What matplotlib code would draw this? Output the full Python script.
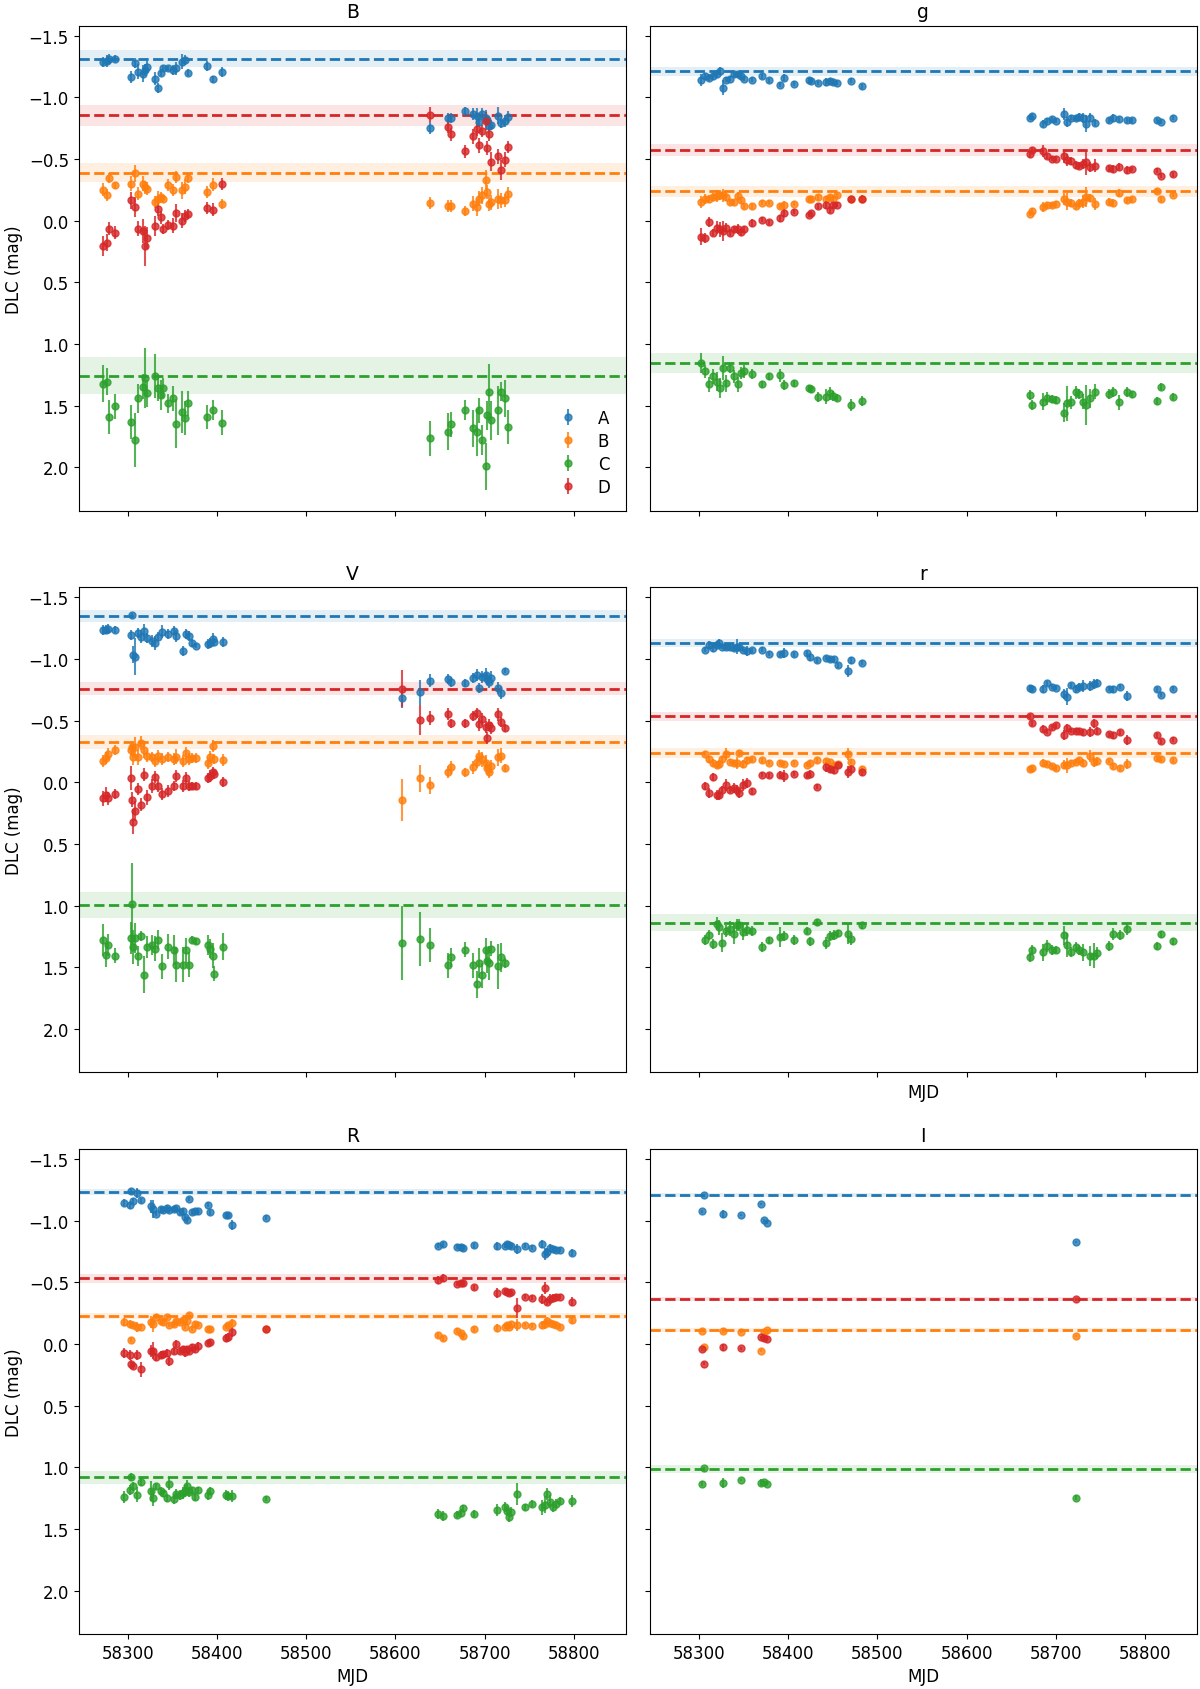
"""
DLC light curves of the four lensed images (A-D) in six filters,
with the reference level of each image shown as a dashed line and band.
"""
import matplotlib.pyplot as plt

plt.rcParams.update({
    "font.size": 12,
    "axes.titlesize": 13.5,
    "axes.labelsize": 12,
})

IMAGES = ["A", "B", "C", "D"]
COLORS = ["tab:blue", "tab:orange", "tab:green", "tab:red"]

# --- B filter ---------------------------------------------------------------
B_MJD = [58272.5, 58277, 58279, 58286, 58304, 58308, 58311.5, 58317, 58319, 58321, 58331, 58334, 58337, 58339, 58345, 58351, 58354, 58361, 58364, 58368, 58389, 58396, 58406,
         58639, 58659, 58662, 58678, 58687, 58691, 58694, 58697, 58701, 58703, 58705, 58707, 58715, 58718, 58723, 58726]
B_A = [-1.285, -1.296, -1.31, -1.315, -1.167, -1.276, -1.208, -1.194, -1.22, -1.249, -1.153, -1.076, -1.20, -1.235, -1.235, -1.22, -1.235, -1.290, -1.304, -1.200, -1.254, -1.147, -1.208,
       -0.755, -0.832, -0.832, -0.892, -0.865, -0.851, -0.80, -0.865, -0.837, -0.82, -0.769, -0.78, -0.851, -0.796, -0.81, -0.843]
B_B = [-0.253, -0.211, -0.349, -0.288, -0.302, -0.384, -0.220, -0.302, -0.27, -0.261, -0.151, -0.178, -0.19, -0.178, -0.288, -0.247, -0.357, -0.247, -0.275, -0.343, -0.233, -0.294, -0.137,
       -0.143, -0.118, -0.118, -0.082, -0.137, -0.110, -0.178, -0.206, -0.329, -0.233, -0.137, -0.15, -0.178, -0.165, -0.165, -0.220]
B_C = [1.323, 1.304, 1.592, 1.504, 1.633, 1.776, 1.441, 1.345, 1.276, 1.400, 1.257, 1.359, 1.414, 1.359, 1.482, 1.441, 1.647, 1.551, 1.598, 1.482, 1.592, 1.537, 1.639,
       1.765, 1.710, 1.650, 1.537, 1.683, 1.716, 1.537, 1.776, 1.990, 1.578, 1.392, 1.62, 1.537, 1.386, 1.441, 1.674]
B_D = [0.206, 0.178, 0.063, 0.096, -0.165, -0.110, 0.063, 0.082, 0.206, 0.137, 0.041, -0.096, -0.027, 0.069, 0.036, 0.041, -0.063, 0.0, -0.041, -0.055, -0.104, -0.091, -0.296,
       -0.859, -0.760, -0.700, -0.563, -0.686, -0.741, -0.612, -0.727, -0.810, -0.590, -0.705, -0.480, -0.522, -0.412, -0.494, -0.598]
B_A_ERR = [0.04, 0.05, 0.04, 0.03, 0.05, 0.04, 0.06, 0.07, 0.05, 0.05, 0.05, 0.04, 0.03, 0.02, 0.02, 0.04, 0.05, 0.06, 0.04, 0.03, 0.04, 0.03, 0.04,
           0.05, 0.04, 0.04, 0.03, 0.05, 0.06, 0.04, 0.05, 0.06, 0.04, 0.04, 0.04, 0.07, 0.04, 0.05, 0.05]
B_B_ERR = [0.05, 0.05, 0.04, 0.03, 0.06, 0.07, 0.05, 0.06, 0.05, 0.05, 0.05, 0.06, 0.04, 0.03, 0.05, 0.05, 0.05, 0.07, 0.06, 0.04, 0.05, 0.05, 0.04,
           0.05, 0.05, 0.05, 0.04, 0.06, 0.07, 0.06, 0.07, 0.08, 0.06, 0.06, 0.06, 0.08, 0.06, 0.05, 0.05]
B_C_ERR = [0.15, 0.11, 0.14, 0.10, 0.14, 0.22, 0.12, 0.10, 0.24, 0.11, 0.18, 0.10, 0.12, 0.08, 0.08, 0.10, 0.20, 0.17, 0.14, 0.10, 0.10, 0.08, 0.10,
           0.14, 0.15, 0.10, 0.08, 0.15, 0.19, 0.10, 0.12, 0.19, 0.12, 0.23, 0.16, 0.20, 0.08, 0.15, 0.14]
B_D_ERR = [0.08, 0.07, 0.05, 0.05, 0.07, 0.08, 0.06, 0.10, 0.16, 0.09, 0.08, 0.06, 0.05, 0.04, 0.04, 0.06, 0.07, 0.06, 0.05, 0.04, 0.05, 0.05, 0.05,
           0.06, 0.05, 0.05, 0.05, 0.06, 0.05, 0.06, 0.05, 0.07, 0.06, 0.06, 0.08, 0.06, 0.08, 0.06, 0.05]
B_REF = [-1.315, -0.390, 1.257, -0.854]
B_REF_ERR = [0.066, 0.075, 0.148, 0.088]

# --- g filter ---------------------------------------------------------------
G_MJD = [58302.6, 58306.9, 58311.2, 58315.5, 58319.8, 58323.2, 58327.1, 58330.5, 58334.8, 58339.1, 58343.4, 58347.7, 58351.1, 58359.7, 58371.3, 58378.6, 58390.6, 58394.9, 58407.0, 58422.9, 58425.9, 58433.6, 58443.0, 58446.5, 58450.8, 58455.1, 58470.5, 58483.0,
         58670.7, 58673.3, 58686.2, 58690.5, 58695.6, 58700.8, 58709.4, 58712.8, 58717.1, 58722.3, 58726.5, 58730.8, 58734.3, 58738.6, 58743.7, 58759.2, 58764.4, 58770.8, 58779.4, 58785.8, 58813.8, 58818.1, 58830.9]
G_A = [-1.139, -1.172, -1.161, -1.172, -1.189, -1.215, -1.079, -1.145, -1.150, -1.189, -1.189, -1.172, -1.153, -1.145, -1.172, -1.139, -1.105, -1.161, -1.111, -1.139, -1.134, -1.117, -1.125, -1.134, -1.125, -1.117, -1.134, -1.090,
       -0.837, -0.851, -0.788, -0.810, -0.824, -0.810, -0.865, -0.804, -0.837, -0.832, -0.843, -0.832, -0.788, -0.837, -0.796, -0.815, -0.837, -0.824, -0.815, -0.815, -0.815, -0.804, -0.837]
G_B = [-0.151, -0.178, -0.178, -0.192, -0.200, -0.211, -0.206, -0.192, -0.151, -0.151, -0.200, -0.165, -0.118, -0.118, -0.145, -0.145, -0.118, -0.129, -0.137, -0.173, -0.178, -0.192, -0.173, -0.192, -0.178, -0.206, -0.178, -0.178,
       -0.055, -0.082, -0.110, -0.124, -0.124, -0.137, -0.178, -0.156, -0.145, -0.118, -0.145, -0.156, -0.192, -0.184, -0.137, -0.156, -0.145, -0.228, -0.165, -0.173, -0.239, -0.173, -0.211]
G_C = [1.153, 1.222, 1.326, 1.263, 1.304, 1.359, 1.194, 1.318, 1.194, 1.263, 1.326, 1.235, 1.222, 1.243, 1.326, 1.263, 1.254, 1.331, 1.318, 1.359, 1.364, 1.427, 1.427, 1.400, 1.419, 1.436, 1.496, 1.463,
       1.414, 1.496, 1.469, 1.441, 1.447, 1.455, 1.556, 1.482, 1.474, 1.392, 1.408, 1.469, 1.496, 1.441, 1.386, 1.408, 1.386, 1.474, 1.386, 1.408, 1.463, 1.345, 1.427]
G_D = [0.129, 0.137, 0.008, 0.096, 0.055, 0.069, 0.082, 0.055, 0.096, 0.069, 0.069, 0.091, 0.069, 0.019, -0.008, 0.014, -0.019, -0.063, -0.074, -0.049, -0.063, -0.118, -0.129, -0.091, -0.124, -0.129, -0.173, -0.178,
       -0.541, -0.576, -0.568, -0.522, -0.502, -0.502, -0.522, -0.494, -0.486, -0.453, -0.447, -0.458, -0.475, -0.439, -0.447, -0.425, -0.420, -0.439, -0.412, -0.420, -0.404, -0.365, -0.376]
G_A_ERR = [0.05, 0.03, 0.03, 0.03, 0.03, 0.03, 0.06, 0.02, 0.02, 0.02, 0.02, 0.02, 0.02, 0.02, 0.02, 0.02, 0.02, 0.03, 0.02, 0.02, 0.02, 0.02, 0.03, 0.02, 0.02, 0.02, 0.02, 0.02,
           0.02, 0.02, 0.03, 0.02, 0.02, 0.02, 0.05, 0.04, 0.02, 0.02, 0.03, 0.04, 0.07, 0.04, 0.03, 0.02, 0.03, 0.02, 0.02, 0.02, 0.02, 0.02, 0.02]
G_B_ERR = [0.05, 0.04, 0.03, 0.03, 0.05, 0.04, 0.05, 0.03, 0.02, 0.02, 0.03, 0.03, 0.02, 0.02, 0.02, 0.02, 0.02, 0.03, 0.02, 0.02, 0.02, 0.02, 0.03, 0.02, 0.02, 0.02, 0.02, 0.02,
           0.02, 0.02, 0.04, 0.02, 0.02, 0.02, 0.05, 0.07, 0.03, 0.02, 0.03, 0.05, 0.08, 0.03, 0.05, 0.03, 0.03, 0.03, 0.02, 0.02, 0.02, 0.02, 0.02]
G_C_ERR = [0.08, 0.05, 0.06, 0.06, 0.08, 0.08, 0.10, 0.07, 0.04, 0.05, 0.06, 0.05, 0.05, 0.04, 0.03, 0.03, 0.05, 0.04, 0.03, 0.03, 0.03, 0.04, 0.06, 0.05, 0.04, 0.03, 0.05, 0.04,
           0.04, 0.04, 0.07, 0.05, 0.03, 0.03, 0.08, 0.14, 0.05, 0.05, 0.04, 0.06, 0.16, 0.08, 0.06, 0.04, 0.04, 0.06, 0.04, 0.03, 0.03, 0.03, 0.03]
G_D_ERR = [0.07, 0.04, 0.04, 0.03, 0.05, 0.06, 0.08, 0.04, 0.03, 0.03, 0.04, 0.03, 0.03, 0.03, 0.02, 0.02, 0.03, 0.03, 0.02, 0.02, 0.02, 0.02, 0.03, 0.03, 0.02, 0.02, 0.03, 0.03,
           0.03, 0.02, 0.05, 0.02, 0.02, 0.02, 0.05, 0.05, 0.03, 0.03, 0.03, 0.04, 0.10, 0.04, 0.05, 0.03, 0.03, 0.03, 0.03, 0.02, 0.02, 0.02, 0.02]
G_REF = [-1.211, -0.239, 1.153, -0.571]
G_REF_ERR = [0.038, 0.045, 0.082, 0.048]

# --- V filter ---------------------------------------------------------------
V_MJD = [58272.0, 58275.5, 58278.0, 58285.8, 58303.2, 58304.5, 58305.5, 58307.8, 58311.5, 58314.7, 58317.9, 58321.5, 58327.0, 58330.7, 58334.4, 58338.0, 58345.4, 58351.3, 58353.6, 58361.4, 58365.1, 58368.3, 58372.0, 58376.5, 58389.4, 58392.6, 58395.8, 58396.7, 58406.3,
         58607.1, 58627.2, 58638.7, 58658.8, 58662.5, 58678.1, 58687.3, 58690.9, 58693.7, 58697.3, 58701.0, 58702.8, 58704.7, 58706.5, 58714.8, 58718.0, 58722.6]
V_A = [-1.238, -1.24, -1.241, -1.238, -1.194, -1.354, -1.035, -1.020, -1.212, -1.183, -1.232, -1.174, -1.145, -1.130, -1.183, -1.223, -1.203, -1.232, -1.188, -1.067, -1.203, -1.188, -1.130, -1.107, -1.125, -1.130, -1.165, -1.14, -1.139,
       -0.681, -0.730, -0.826, -0.841, -0.817, -0.806, -0.846, -0.870, -0.768, -0.855, -0.875, -0.841, -0.817, -0.85, -0.768, -0.725, -0.904]
V_B = [-0.174, -0.20, -0.232, -0.261, -0.261, -0.29, -0.209, -0.290, -0.203, -0.319, -0.261, -0.217, -0.203, -0.174, -0.217, -0.188, -0.203, -0.188, -0.209, -0.174, -0.238, -0.188, -0.197, -0.197, -0.159, -0.203, -0.296, -0.19, -0.180,
       0.139, -0.035, 0.023, -0.087, -0.122, -0.081, -0.122, -0.168, -0.217, -0.188, -0.159, -0.116, -0.087, -0.13, -0.203, -0.217, -0.116]
V_C = [1.275, 1.40, 1.319, 1.406, 1.261, 0.986, 1.333, 1.261, 1.406, 1.246, 1.559, 1.333, 1.319, 1.348, 1.275, 1.493, 1.333, 1.357, 1.478, 1.478, 1.362, 1.478, 1.275, 1.290, 1.319, 1.348, 1.406, 1.551, 1.333,
       1.304, 1.270, 1.319, 1.484, 1.420, 1.357, 1.484, 1.638, 1.464, 1.565, 1.362, 1.449, 1.464, 1.348, 1.493, 1.420, 1.464]
V_D = [0.130, 0.10, 0.130, 0.093, -0.035, 0.139, 0.319, 0.232, 0.052, 0.180, -0.064, 0.122, 0.029, -0.043, 0.029, 0.093, 0.072, 0.029, -0.052, 0.029, -0.035, 0.029, 0.029, 0.029, -0.035, -0.052, -0.087, -0.07, -0.006,
       -0.759, -0.507, -0.522, -0.557, -0.478, -0.478, -0.536, -0.565, -0.470, -0.516, -0.449, -0.362, -0.464, -0.441, -0.551, -0.487, -0.441]
V_A_ERR = [0.04, 0.04, 0.04, 0.03, 0.04, 0.02, 0.07, 0.15, 0.04, 0.05, 0.05, 0.04, 0.05, 0.06, 0.04, 0.05, 0.04, 0.04, 0.05, 0.04, 0.04, 0.04, 0.03, 0.02, 0.04, 0.04, 0.05, 0.03, 0.04,
           0.08, 0.10, 0.05, 0.04, 0.04, 0.03, 0.04, 0.05, 0.04, 0.05, 0.05, 0.05, 0.05, 0.05, 0.05, 0.05, 0.02]
V_B_ERR = [0.05, 0.05, 0.05, 0.04, 0.05, 0.04, 0.07, 0.08, 0.06, 0.06, 0.06, 0.05, 0.04, 0.05, 0.05, 0.05, 0.04, 0.05, 0.06, 0.05, 0.05, 0.05, 0.04, 0.04, 0.05, 0.05, 0.05, 0.04, 0.05,
           0.17, 0.11, 0.07, 0.05, 0.05, 0.04, 0.05, 0.05, 0.05, 0.06, 0.06, 0.05, 0.05, 0.05, 0.07, 0.06, 0.03]
V_C_ERR = [0.13, 0.10, 0.09, 0.06, 0.13, 0.33, 0.14, 0.12, 0.08, 0.04, 0.15, 0.09, 0.08, 0.10, 0.08, 0.10, 0.10, 0.12, 0.14, 0.14, 0.10, 0.10, 0.03, 0.03, 0.08, 0.08, 0.10, 0.06, 0.11,
           0.30, 0.22, 0.14, 0.10, 0.08, 0.06, 0.10, 0.11, 0.12, 0.10, 0.10, 0.10, 0.14, 0.06, 0.18, 0.12, 0.04]
V_D_ERR = [0.06, 0.06, 0.05, 0.04, 0.10, 0.06, 0.10, 0.08, 0.05, 0.05, 0.05, 0.06, 0.06, 0.05, 0.05, 0.05, 0.05, 0.04, 0.05, 0.05, 0.05, 0.04, 0.03, 0.03, 0.04, 0.05, 0.04, 0.04, 0.04,
           0.15, 0.12, 0.06, 0.05, 0.04, 0.04, 0.04, 0.04, 0.05, 0.05, 0.05, 0.05, 0.05, 0.05, 0.05, 0.04, 0.03]
V_REF = [-1.351, -0.328, 0.991, -0.759]
V_REF_ERR = [0.050, 0.058, 0.106, 0.054]

# --- r filter ---------------------------------------------------------------
r_MJD = [58306.9, 58311.2, 58315.5, 58319.8, 58322.8, 58326.2, 58330.5, 58334.8, 58339.1, 58342.5, 58345.5, 58349.8, 58354.1, 58359.7, 58371.3, 58378.6, 58390.6, 58394.9, 58407.0, 58420.7, 58424.1, 58432.7, 58443.0, 58446.5, 58451.6, 58455.9, 58467.1, 58470.5, 58483.0,
         58670.7, 58673.3, 58686.2, 58690.5, 58695.6, 58700.8, 58709.4, 58712.8, 58717.1, 58722.3, 58726.5, 58730.8, 58738.6, 58742.9, 58746.3, 58759.2, 58764.4, 58772.1, 58779.4, 58813.8, 58818.1, 58830.9]
r_A = [-1.078, -1.116, -1.087, -1.116, -1.130, -1.101, -1.096, -1.096, -1.087, -1.101, -1.096, -1.078, -1.067, -1.072, -1.078, -1.043, -1.038, -1.049, -1.038, -1.049, -1.014, -0.991, -1.009, -1.0, -1.0, -0.951, -0.904, -0.991, -0.971,
       -0.768, -0.759, -0.759, -0.806, -0.777, -0.768, -0.719, -0.696, -0.788, -0.759, -0.777, -0.783, -0.783, -0.797, -0.806, -0.759, -0.754, -0.777, -0.701, -0.754, -0.710, -0.759]
r_B = [-0.232, -0.188, -0.159, -0.145, -0.151, -0.188, -0.232, -0.168, -0.159, -0.159, -0.238, -0.151, -0.180, -0.188, -0.180, -0.159, -0.159, -0.151, -0.159, -0.145, -0.159, -0.180, -0.174, -0.168, -0.145, -0.151, -0.232, -0.168, -0.110,
       -0.110, -0.116, -0.159, -0.151, -0.130, -0.116, -0.145, -0.139, -0.159, -0.168, -0.180, -0.159, -0.217, -0.168, -0.174, -0.174, -0.130, -0.116, -0.151, -0.197, -0.188, -0.180]
r_C = [1.281, 1.241, 1.310, 1.145, 1.174, 1.299, 1.203, 1.188, 1.232, 1.159, 1.154, 1.212, 1.194, 1.203, 1.333, 1.281, 1.252, 1.246, 1.275, 1.203, 1.290, 1.136, 1.304, 1.246, 1.241, 1.223, 1.232, 1.270, 1.159,
       1.420, 1.357, 1.377, 1.328, 1.357, 1.357, 1.241, 1.319, 1.377, 1.333, 1.362, 1.377, 1.406, 1.406, 1.385, 1.328, 1.232, 1.241, 1.188, 1.328, 1.232, 1.290]
r_D = [0.029, 0.087, -0.043, 0.101, 0.101, 0.06, 0.023, 0.058, 0.043, 0.058, 0.087, 0.023, 0.006, 0.072, -0.064, -0.058, -0.064, -0.052, -0.072, -0.058, -0.072, 0.035, -0.122, -0.110, -0.101, -0.139, -0.087, -0.110, -0.081,
       -0.536, -0.478, -0.435, -0.412, -0.449, -0.464, -0.383, -0.441, -0.420, -0.420, -0.420, -0.406, -0.412, -0.478, -0.420, -0.391, -0.383, -0.406, -0.342, -0.383, -0.333, -0.348]
r_A_ERR = [0.02, 0.03, 0.03, 0.03, 0.03, 0.02, 0.02, 0.02, 0.02, 0.06, 0.02, 0.02, 0.04, 0.02, 0.02, 0.02, 0.02, 0.04, 0.02, 0.02, 0.03, 0.02, 0.02, 0.02, 0.02, 0.02, 0.05, 0.03, 0.02,
           0.02, 0.02, 0.03, 0.02, 0.02, 0.02, 0.04, 0.07, 0.02, 0.03, 0.03, 0.05, 0.04, 0.04, 0.03, 0.02, 0.03, 0.02, 0.04, 0.02, 0.02, 0.02]
r_B_ERR = [0.02, 0.03, 0.03, 0.03, 0.03, 0.02, 0.05, 0.02, 0.02, 0.05, 0.02, 0.03, 0.03, 0.02, 0.02, 0.02, 0.02, 0.02, 0.02, 0.02, 0.02, 0.02, 0.02, 0.02, 0.02, 0.02, 0.05, 0.02, 0.02,
           0.02, 0.02, 0.03, 0.02, 0.02, 0.02, 0.04, 0.06, 0.02, 0.02, 0.02, 0.03, 0.05, 0.04, 0.03, 0.02, 0.02, 0.02, 0.04, 0.02, 0.02, 0.02]
r_C_ERR = [0.04, 0.04, 0.04, 0.05, 0.06, 0.08, 0.05, 0.06, 0.08, 0.05, 0.05, 0.07, 0.05, 0.04, 0.04, 0.03, 0.08, 0.04, 0.04, 0.03, 0.04, 0.03, 0.05, 0.04, 0.04, 0.03, 0.08, 0.05, 0.03,
           0.04, 0.04, 0.07, 0.05, 0.04, 0.03, 0.08, 0.10, 0.04, 0.04, 0.04, 0.07, 0.08, 0.10, 0.05, 0.04, 0.05, 0.04, 0.05, 0.03, 0.03, 0.03]
r_D_ERR = [0.03, 0.04, 0.03, 0.04, 0.04, 0.03, 0.05, 0.03, 0.04, 0.04, 0.04, 0.05, 0.04, 0.03, 0.02, 0.02, 0.03, 0.05, 0.02, 0.02, 0.03, 0.02, 0.04, 0.03, 0.03, 0.02, 0.05, 0.03, 0.03,
           0.02, 0.02, 0.03, 0.02, 0.02, 0.02, 0.04, 0.03, 0.02, 0.02, 0.02, 0.03, 0.04, 0.04, 0.03, 0.02, 0.03, 0.02, 0.04, 0.02, 0.02, 0.02]
r_REF = [-1.130, -0.238, 1.139, -0.536]
r_REF_ERR = [0.035, 0.039, 0.068, 0.038]

# --- R filter ---------------------------------------------------------------
R_MJD = [58296.3, 58302.3, 58304.1, 58306.0, 58310.1, 58314.7, 58326.1, 58328.4, 58332.1, 58336.7, 58339.0, 58343.5, 58346.7, 58351.3, 58354.5, 58358.2, 58361.4, 58363.7, 58366.5, 58368.7, 58372.0, 58375.2, 58378.8, 58390.3, 58392.6, 58409.5, 58412.3, 58416.9, 58454.4,
         58647.8, 58653.8, 58668.9, 58673.5, 58675.3, 58688.2, 58713.8, 58722.5, 58724.8, 58727.1, 58729.4, 58736.3, 58745.5, 58753.3, 58763.8, 58767.0, 58769.8, 58773.0, 58776.2, 58779.9, 58784.4, 58797.3]
R_A = [-1.146, -1.125, -1.238, -1.162, -1.223, -1.168, -1.116, -1.095, -1.055, -1.095, -1.085, -1.101, -1.085, -1.095, -1.101, -1.070, -1.076, -1.034, -1.003, -1.177, -1.070, -1.076, -1.076, -1.131, -1.070, -1.046, -1.046, -0.963, -1.024,
       -0.796, -0.811, -0.790, -0.790, -0.780, -0.802, -0.796, -0.796, -0.811, -0.802, -0.796, -0.771, -0.796, -0.780, -0.811, -0.729, -0.750, -0.780, -0.771, -0.765, -0.765, -0.741]
R_B = [-0.180, -0.162, -0.034, -0.155, -0.140, -0.140, -0.180, -0.162, -0.223, -0.186, -0.180, -0.216, -0.155, -0.162, -0.186, -0.180, -0.192, -0.140, -0.186, -0.232, -0.125, -0.162, -0.155, -0.119, -0.119, -0.140, -0.155, -0.171, -0.119,
       -0.073, -0.049, -0.110, -0.088, -0.064, -0.119, -0.131, -0.140, -0.155, -0.140, -0.162, -0.155, -0.155, -0.149, -0.155, -0.162, -0.186, -0.171, -0.162, -0.155, -0.140, -0.192]
R_C = [1.241, 1.186, 1.079, 1.155, 1.223, 1.119, 1.192, 1.247, 1.155, 1.192, 1.210, 1.247, 1.131, 1.253, 1.216, 1.223, 1.210, 1.192, 1.155, 1.201, 1.186, 1.241, 1.186, 1.223, 1.192, 1.223, 1.232, 1.232, 1.253,
       1.375, 1.393, 1.384, 1.369, 1.332, 1.375, 1.345, 1.323, 1.354, 1.405, 1.363, 1.216, 1.323, 1.293, 1.323, 1.302, 1.216, 1.277, 1.323, 1.293, 1.271, 1.271]
R_D = [0.073, 0.088, 0.165, 0.174, 0.088, 0.204, 0.058, 0.052, 0.104, 0.088, 0.082, 0.073, 0.134, 0.052, -0.003, 0.052, 0.043, 0.064, 0.043, 0.052, 0.027, 0.043, 0.012, -0.009, -0.018, -0.049, -0.058, -0.095, -0.119,
       -0.521, -0.537, -0.491, -0.497, -0.497, -0.460, -0.415, -0.430, -0.424, -0.415, -0.424, -0.293, -0.384, -0.375, -0.369, -0.454, -0.345, -0.369, -0.375, -0.384, -0.384, -0.345]
R_A_ERR = [0.03, 0.03, 0.02, 0.02, 0.04, 0.02, 0.05, 0.07, 0.02, 0.02, 0.02, 0.03, 0.02, 0.02, 0.02, 0.02, 0.03, 0.02, 0.02, 0.02, 0.02, 0.02, 0.02, 0.02, 0.02, 0.02, 0.02, 0.04, 0.02,
           0.02, 0.02, 0.02, 0.02, 0.02, 0.02, 0.03, 0.02, 0.02, 0.02, 0.02, 0.04, 0.02, 0.02, 0.03, 0.05, 0.03, 0.03, 0.02, 0.02, 0.02, 0.03]
R_B_ERR = [0.03, 0.03, 0.02, 0.02, 0.04, 0.02, 0.05, 0.06, 0.02, 0.02, 0.02, 0.02, 0.02, 0.02, 0.02, 0.02, 0.02, 0.02, 0.02, 0.02, 0.02, 0.02, 0.02, 0.02, 0.02, 0.02, 0.02, 0.03, 0.02,
           0.02, 0.02, 0.02, 0.02, 0.02, 0.02, 0.03, 0.02, 0.02, 0.02, 0.02, 0.05, 0.02, 0.02, 0.03, 0.04, 0.03, 0.02, 0.02, 0.02, 0.02, 0.03]
R_C_ERR = [0.05, 0.04, 0.03, 0.04, 0.06, 0.03, 0.08, 0.07, 0.03, 0.03, 0.03, 0.03, 0.05, 0.04, 0.04, 0.04, 0.05, 0.05, 0.05, 0.04, 0.03, 0.03, 0.03, 0.04, 0.03, 0.04, 0.04, 0.05, 0.02,
           0.04, 0.04, 0.03, 0.03, 0.03, 0.03, 0.05, 0.04, 0.04, 0.04, 0.04, 0.09, 0.03, 0.03, 0.06, 0.07, 0.05, 0.05, 0.04, 0.04, 0.03, 0.05]
R_D_ERR = [0.04, 0.04, 0.04, 0.03, 0.04, 0.06, 0.05, 0.07, 0.03, 0.03, 0.03, 0.03, 0.04, 0.03, 0.03, 0.03, 0.03, 0.04, 0.03, 0.03, 0.03, 0.03, 0.03, 0.02, 0.02, 0.03, 0.03, 0.04, 0.02,
           0.03, 0.03, 0.02, 0.02, 0.02, 0.02, 0.04, 0.02, 0.02, 0.02, 0.02, 0.08, 0.02, 0.02, 0.04, 0.05, 0.03, 0.04, 0.03, 0.02, 0.02, 0.04]
R_REF = [-1.232, -0.229, 1.082, -0.534]
R_REF_ERR = [0.023, 0.026, 0.049, 0.035]

# --- I filter ---------------------------------------------------------------
I_MJD = [58303.4, 58305.6, 58326.6, 58346.8, 58370.0, 58372.6, 58376.5, 58723.1]
I_A = [-1.076, -1.207, -1.055, -1.046, -1.137, -1.003, -0.985, -0.826]
I_B = [-0.110, 0.027, -0.110, -0.101, 0.052, -0.095, -0.116, -0.064]
I_C = [1.131, 1.009, 1.125, 1.101, 1.125, 1.119, 1.131, 1.247]
I_D = [0.043, 0.159, 0.027, 0.034, -0.055, -0.049, -0.043, -0.363]
I_A_ERR = [0.01, 0.01, 0.03, 0.01, 0.01, 0.01, 0.01, 0.01]
I_B_ERR = [0.01, 0.01, 0.02, 0.01, 0.01, 0.01, 0.01, 0.01]
I_C_ERR = [0.02, 0.01, 0.04, 0.01, 0.03, 0.01, 0.01, 0.02]
I_D_ERR = [0.01, 0.01, 0.03, 0.01, 0.01, 0.01, 0.01, 0.01]
I_REF = [-1.207, -0.116, 1.012, -0.363]
I_REF_ERR = [0.015, 0.015, 0.030, 0.015]

PANELS = [
    ("B", B_MJD, [B_A, B_B, B_C, B_D], [B_A_ERR, B_B_ERR, B_C_ERR, B_D_ERR], B_REF, B_REF_ERR),
    ("g", G_MJD, [G_A, G_B, G_C, G_D], [G_A_ERR, G_B_ERR, G_C_ERR, G_D_ERR], G_REF, G_REF_ERR),
    ("V", V_MJD, [V_A, V_B, V_C, V_D], [V_A_ERR, V_B_ERR, V_C_ERR, V_D_ERR], V_REF, V_REF_ERR),
    ("r", r_MJD, [r_A, r_B, r_C, r_D], [r_A_ERR, r_B_ERR, r_C_ERR, r_D_ERR], r_REF, r_REF_ERR),
    ("R", R_MJD, [R_A, R_B, R_C, R_D], [R_A_ERR, R_B_ERR, R_C_ERR, R_D_ERR], R_REF, R_REF_ERR),
    ("I", I_MJD, [I_A, I_B, I_C, I_D], [I_A_ERR, I_B_ERR, I_C_ERR, I_D_ERR], I_REF, I_REF_ERR),
]


def main() -> None:
    fig, axes = plt.subplots(3, 2, figsize=(12, 16.9), dpi=100,
                             sharex=True, sharey=True)
    fig.subplots_adjust(left=0.0656, right=0.9973, bottom=0.0325,
                        top=0.9842, wspace=0.044, hspace=0.158)

    for ax, (name, mjd, mags, errs, ref, ref_err) in zip(axes.flat, PANELS):
        for img, c, m, e, lvl, hw in zip(IMAGES, COLORS, mags, errs, ref, ref_err):
            ax.axhspan(lvl - hw, lvl + hw, color=c, alpha=0.12, lw=0)
            ax.axhline(lvl, color=c, ls="--", lw=2)
            ax.errorbar(mjd, m, yerr=e, fmt="o", color=c, ms=5,
                        alpha=0.8, label=img)
        ax.set_title(name)

    axes[0, 0].legend(loc="lower right", frameon=False, labelspacing=0.3)
    for ax in axes[:, 0]:
        ax.set_ylabel("DLC (mag)")
    for ax in (axes[1, 1], axes[2, 0], axes[2, 1]):
        ax.set_xlabel("MJD")

    axes[0, 0].set_xlim(58245, 58858)
    axes[0, 0].set_ylim(2.352, -1.582)

    fig.savefig("out.png")
    plt.close(fig)


if __name__ == "__main__":
    main()
